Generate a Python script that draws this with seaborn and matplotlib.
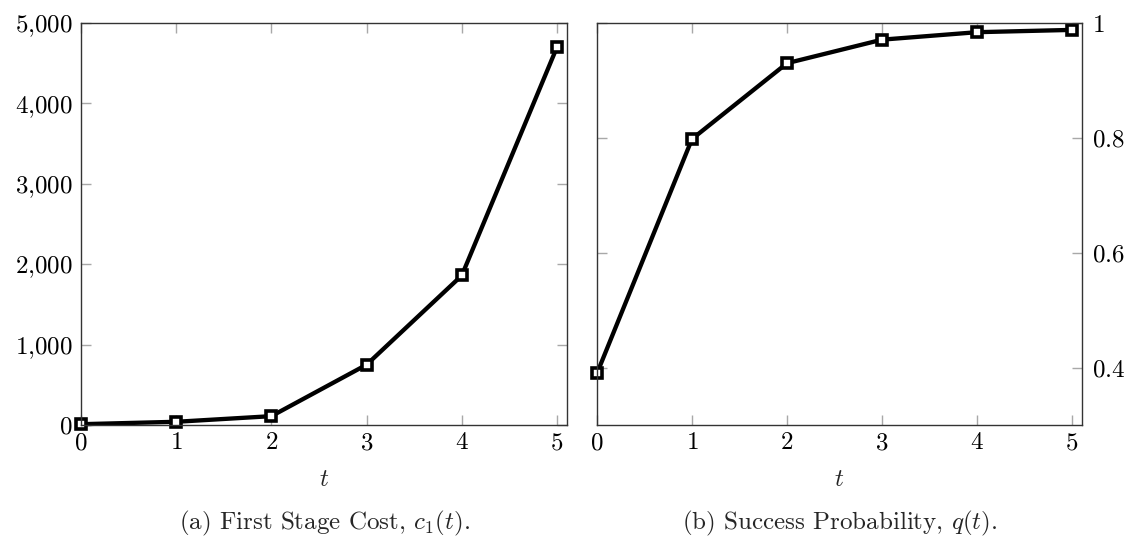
import matplotlib
matplotlib.use("Agg")
import matplotlib.pyplot as plt
import seaborn as sns
import pandas as pd
from matplotlib.ticker import FixedLocator, FuncFormatter

t = [0, 1, 2, 3, 4, 5]
cost = [10, 40, 110, 750, 1860, 4700]
prob = [0.390, 0.798, 0.930, 0.971, 0.984, 0.988]
cost_ticks = [0, 1000, 2000, 3000, 4000, 5000]
prob_ticks = [0.4, 0.6, 0.8, 1.0]
caption_a = r"(a) First Stage Cost, $c_1(t)$."
caption_b = r"(b) Success Probability, $q(t)$."

sns.set_theme(style="white")
plt.rcParams["font.family"] = ["cmr10", "DejaVu Serif"]
plt.rcParams["mathtext.fontset"] = "cm"
plt.rcParams["axes.unicode_minus"] = False
plt.rcParams["axes.formatter.use_mathtext"] = True

df = pd.DataFrame({"t": t, "cost": cost, "prob": prob})

W, H = 1127, 539
fig = plt.figure(figsize=(W / 100, H / 100), dpi=100)
top, bot = 23, 425
axL = fig.add_axes([81 / W, (H - bot) / H, (567 - 81) / W, (bot - top) / H])
axR = fig.add_axes([597 / W, (H - bot) / H, (1082 - 597) / W, (bot - top) / H])

line_kw = dict(color="black", linewidth=3.1, marker="s", markersize=7,
               markerfacecolor="white", markeredgecolor="black",
               markeredgewidth=2.6, clip_on=False)

sns.lineplot(data=df, x="t", y="cost", ax=axL, **line_kw)
sns.lineplot(data=df, x="t", y="prob", ax=axR, **line_kw)

fs = 18
for ax in (axL, axR):
    ax.set_xlim(0, 5.105)
    ax.xaxis.set_major_locator(FixedLocator(t))
    ax.xaxis.set_major_formatter(FuncFormatter(lambda v, p: r"$%d$" % round(v)))
    ax.tick_params(axis="both", which="major", direction="in", length=7,
                   width=1, color="#a8a8a8", labelsize=fs, pad=5,
                   top=True, bottom=True, left=True, right=True,
                   labelcolor="black")
    for s in ax.spines.values():
        s.set_color("#333333")
        s.set_linewidth(1.0)
    ax.set_xlabel(r"$t$", fontsize=fs)
    ax.xaxis.set_label_coords(0.5, -(480 - bot) / (bot - top))
    ax.xaxis.label.set_va("center")
    ax.set_ylabel("")
    ax.grid(False)

axL.set_ylim(0, 5000)
axL.yaxis.set_major_locator(FixedLocator(cost_ticks))
axL.yaxis.set_major_formatter(FuncFormatter(
    lambda v, p: r"$%s$" % ("{:,}".format(int(round(v))).replace(",", "{,}"))))
axL.tick_params(axis="y", labelleft=True, labelright=False, pad=6)

axR.set_ylim(0.30, 1.0)
axR.yaxis.set_major_locator(FixedLocator(prob_ticks))
axR.yaxis.set_major_formatter(FuncFormatter(
    lambda v, p: r"$1$" if abs(v - 1) < 1e-9 else r"$%.1f$" % v))
axR.tick_params(axis="y", labelleft=False, labelright=True, pad=7)

fig.text((81 + 567) / 2 / W, 1 - 523 / H, caption_a, ha="center", va="center", fontsize=fs)
fig.text((597 + 1082) / 2 / W, 1 - 523 / H, caption_b, ha="center", va="center", fontsize=fs)

fig.savefig("out.png", dpi=100)
